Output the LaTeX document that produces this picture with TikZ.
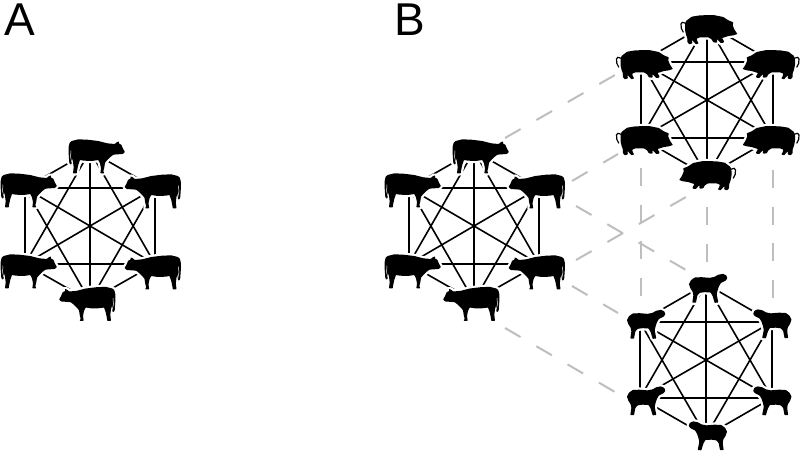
\documentclass[tikz,border=0pt]{standalone}
\usepackage{fontspec}
\setmainfont{Liberation Sans}
\usetikzlibrary{calc}
\tikzset{
  hub/.style={coordinate},
  edge/.style={black,line width=1.6pt},
  link/.style={draw={rgb,255:red,190;green,190;blue,190},line width=2pt,dash pattern=on 18pt off 18.2pt},
  linkv/.style={draw={rgb,255:red,190;green,190;blue,190},line width=2pt,dash pattern=on 18pt off 18.5pt},
  beast/.style={fill=black,rounded corners=0.5pt,preaction={draw=white,line width=4.5pt,line join=round}},
  panel/.style={inner sep=0pt,font=\fontsize{46}{46}\selectfont,anchor=base west},
  cow/.pic={
    \begin{scope}[scale=0.3333,shift={(-291,-78)}]
      \path[beast] (215,33)--(235,28)--(262,29)--(295,33)--(322,40)--(344,42)--(350,37)--(357,34)--(357,41)--(364,44)--(369,56)--(375,66)--(368,72)--(352,73)--(340,74)--(330,82)--(322,90)--(315,98)--(313,112)--(310,124)--(313,130)--(301,130)--(303,115)--(300,100)--(295,90)--(275,93)--(252,92)--(240,90)--(235,104)--(232,118)--(230,130)--(219,130)--(221,112)--(219,95)--(216,85)--(215,100)--(213,104)--(208,100)--(206,72)--(206,50)--(209,38)--cycle;
      \draw[white,line width=0.5pt] (212.5,62)--(212,82)--(215,96);
    \end{scope}},
  pig/.pic={
    \begin{scope}[scale=0.3333,shift={(-327,-88.5)}]
      \draw[white,line width=4pt] (258,70)--(247,67)--(243,72)--(244,85)--(250,97);
      \path[beast] (258,63)--(275,50)--(300,46)--(340,45)--(370,51)--(385,61)--(400,67)--(398,76)--(404,90)--(412,102)--(400,106)--(385,108)--(373,112)--(366,114)--(372,124)--(371,128)--(362,129)--(354,120)--(350,118)--(352,124)--(350,128)--(340,127)--(335,118)--(325,112)--(300,112)--(290,116)--(292,124)--(296,130)--(288,133)--(280,124)--(276,120)--(277,130)--(268,133)--(262,126)--(262,115)--(258,104)--(255,90)--(255,74)--cycle;
      \draw[black,line width=1.2pt] (258,70)--(247,67)--(243,72)--(244,85)--(250,97);
    \end{scope}},
  sheep/.pic={
    \begin{scope}[scale=0.3333,shift={(-325,-85)}]
      \path[beast] (268,72)--(274,60)--(285,52)--(305,51)--(330,53)--(345,50)--(355,44)--(370,41)--(380,46)--(383,55)--(377,62)--(364,68)--(358,78)--(354,90)--(351,102)--(356,127)--(345,128)--(339,108)--(333,97)--(315,96)--(300,98)--(293,106)--(289,127)--(278,127)--(281,106)--(279,95)--(272,84)--cycle;
    \end{scope}}
}
\newcommand{\kedges}[1]{%
  \foreach \a/\b in {1/2,1/3,1/4,1/5,1/6,2/3,2/4,2/5,2/6,3/4,3/5,3/6,4/5,4/6,5/6}
    \draw[edge] (#1\a) -- (#1\b);}
\begin{document}
\begin{tikzpicture}[x=1pt,y=-1pt]
\useasboundingbox (0,0) rectangle (800,451);
\node[panel] (labelA) at (4,35) {A};
\node[panel] (labelB) at (394.5,35) {B};
% hubs: A cows
\node[hub] (a1) at (90,151) {}; \node[hub] (a2) at (25,188) {}; \node[hub] (a3) at (155,188) {};
\node[hub] (a4) at (25,264) {}; \node[hub] (a5) at (155,264) {}; \node[hub] (a6) at (90,301) {};
% hubs: B cows
\node[hub] (c1) at (474,151) {}; \node[hub] (c2) at (409,188) {}; \node[hub] (c3) at (539,188) {};
\node[hub] (c4) at (409,264) {}; \node[hub] (c5) at (539,264) {}; \node[hub] (c6) at (474,301) {};
% hubs: pigs
\node[hub] (p1) at (707,24) {}; \node[hub] (p2) at (641,62) {}; \node[hub] (p3) at (773,62) {};
\node[hub] (p4) at (641,138) {}; \node[hub] (p5) at (773,138) {}; \node[hub] (p6) at (707,176) {};
% hubs: sheep
\node[hub] (s1) at (706,284) {}; \node[hub] (s2) at (640,322) {}; \node[hub] (s3) at (772,322) {};
\node[hub] (s4) at (640,398) {}; \node[hub] (s5) at (772,398) {}; \node[hub] (s6) at (706,436) {};
% grey links
\draw[link] ($(c1)+(31,-13)$) -- ($(p2)+(-26,13)$);
\draw[link] ($(c3)+(33,-7)$) -- ($(p4)+(-23,16)$);
\draw[link] ($(c5)+(37,-4)$) -- ($(p6)+(-21,21)$);
\draw[link] ($(c3)+(37,18)$) -- ($(s1)+(-20,-14)$);
\draw[link] ($(c5)+(33,22)$) -- ($(s2)+(-22,-9)$);
\draw[link] ($(c6)+(31,27)$) -- ($(s4)+(-25,-6)$);
\draw[linkv] ($(p4)+(0,30)$) -- ($(s2)+(1,-26)$);
\draw[linkv] ($(p6)+(0,31)$) -- ($(s1)+(1,-22)$);
\draw[linkv] ($(p5)+(0,32)$) -- ($(s3)+(1,-24)$);
% graph edges
\kedges{a}\kedges{c}\kedges{p}\kedges{s}
% animals
\foreach \p/\dx in {a/0,c/384}{
  \pic at (97+\dx,156) {cow};
  \pic at (29+\dx,190) {cow};
  \pic[xscale=-1] at (152.5+\dx,191) {cow};
  \pic at (29+\dx,271) {cow};
  \pic[xscale=-1] at (152.5+\dx,272) {cow};
  \pic[xscale=-1] at (87+\dx,303.5) {cow};
}
\pic at (709,29.5) {pig};
\pic at (644.5,64.5) {pig};
\pic[xscale=-1] at (771,64.5) {pig};
\pic at (644.5,140.5) {pig};
\pic[xscale=-1] at (771,140.5) {pig};
\pic[xscale=-1] at (707.5,175.5) {pig};
\pic at (708,288.5) {sheep};
\pic at (646,324.5) {sheep};
\pic[xscale=-1] at (772.5,324) {sheep};
\pic at (646,401) {sheep};
\pic[xscale=-1] at (772.5,401) {sheep};
\pic[xscale=-1] at (708,436) {sheep};
\end{tikzpicture}
\end{document}
